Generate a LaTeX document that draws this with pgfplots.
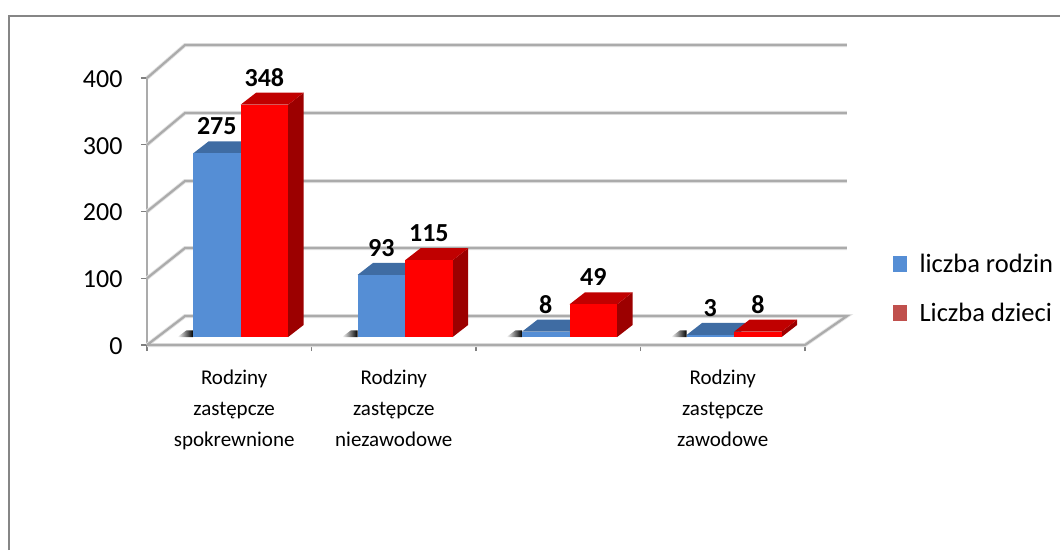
\documentclass[border=0pt]{standalone}
\usepackage{pgfplots}
\pgfplotsset{compat=1.18}
\usepackage{fontspec}
\setmainfont{Carlito}

\definecolor{bluefront}{HTML}{558ED5}
\definecolor{bluetop}{HTML}{3F6CA3}
\definecolor{redfront}{HTML}{FF0000}
\definecolor{redtop}{HTML}{C00000}
\definecolor{redside}{HTML}{9C0000}
\definecolor{gridgray}{HTML}{ABABAB}
\definecolor{legred}{HTML}{C0504D}

\tikzset{wall/.style={gridgray,line width=2.2pt,preaction={draw,gridgray!35,line width=4pt}}}

% one bar: left x, value, front, top, side colour
\newcommand{\cube}[5]{
  \addplot[forget plot,draw=none,fill=#5,yshift=8pt] coordinates {({#1+.289},0) ({#1+.383},18) ({#1+.383},{#2+18}) ({#1+.289},#2)} --cycle;
  \addplot[forget plot,draw=none,fill=#4,yshift=8pt] coordinates {(#1,#2) ({#1+.094},{#2+18}) ({#1+.383},{#2+18}) ({#1+.289},#2)} --cycle;
  \addplot[forget plot,draw=none,fill=#3,yshift=8pt] coordinates {(#1,0) (#1,#2) ({#1+.289},#2) ({#1+.289},0)} --cycle;
  \addplot[forget plot,draw=none,mark=none,nodes near coords,
    /pgf/number format/assume math mode=true,
    every node near coord/.style={anchor=center,yshift=35pt,font=\fontsize{26}{26}\selectfont\bfseries,text=black}]
    coordinates {({#1+.1445},#2)};
}
% floor shadow left of a bar
\newcommand{\smudge}[1]{
  \addplot[forget plot,draw=none,left color=white,right color=black,yshift=8pt] coordinates {({#1-.095},0) ({#1-.04},10) (#1,10) (#1,0)} --cycle;
}

\begin{document}
\begin{tikzpicture}
\useasboundingbox (0pt,0pt) rectangle (1060pt,-550pt);
\draw[color=gray!95,line width=1.6pt] (9pt,-550pt) -- (9pt,-16pt) -- (1060pt,-16pt);
\begin{axis}[
  at={(147pt,-345pt)},anchor=south west,
  scale only axis,width=658pt,height=267pt,
  xmin=0,xmax=4,ymin=0,ymax=400,
  clip=false,
  axis lines=left,
  axis line style={-,color=gridgray,line width=2.4pt},
  xtick={0,1,2,3,4},xticklabels={},
  ytick={0,100,200,300,400},
  extra x ticks={0.53,1.5,2.5,3.5},
  extra x tick style={major tick length=0pt},
  extra x tick labels={Rodziny\\zastępcze\\spokrewnione,Rodziny\\zastępcze\\niezawodowe,{},Rodziny\\zastępcze\\zawodowe},
  x tick label style={align=center,font=\fontsize{21}{31}\selectfont,yshift=-21pt},
  y tick label style={font=\fontsize{26}{26}\selectfont,xshift=-15pt,yshift=-1pt,/pgf/number format/assume math mode=true},
  tick style={color=gray,line width=1.3pt},
  major tick length=6pt,
  tick align=outside,
  legend cell align=left,
  legend style={at={(1.134,0.213)},anchor=west,draw=none,fill=none,
    font=\fontsize{26.5}{26.5}\selectfont,row sep=25pt,inner sep=0pt},
  legend image code/.code={\fill[#1,draw=none] (0pt,-8pt) rectangle (14pt,8pt); \path (24pt,0pt);},
]
\addlegendimage{fill=bluefront}
\addlegendentry{liczba rodzin}
\addlegendimage{fill=legred}
\addlegendentry{Liczba dzieci}

% walls and floor
\addplot[forget plot,wall] coordinates {(0,400) (.231,449.4) (4.255,449.4)};
\addplot[forget plot,wall] coordinates {(0,300) (.231,347.6) (4.255,347.6)};
\addplot[forget plot,wall] coordinates {(0,200) (.231,245.7) (4.255,245.7)};
\addplot[forget plot,wall] coordinates {(0,100) (.231,145.3) (4.255,145.3)};
\addplot[forget plot,wall] coordinates {(0,0) (.231,43.4) (4.255,43.4) (4,0) (0,0)};

\smudge{0.28}\smudge{1.28}\smudge{2.28}\smudge{3.28}
\cube{0.28}{275}{bluefront}{bluetop}{bluetop}
\cube{0.569}{348}{redfront}{redtop}{redside}
\cube{1.28}{93}{bluefront}{bluetop}{bluetop}
\cube{1.569}{115}{redfront}{redtop}{redside}
\cube{2.28}{8}{bluefront}{bluetop}{bluetop}
\cube{2.569}{49}{redfront}{redtop}{redside}
\cube{3.28}{3}{bluefront}{bluetop}{bluetop}
\cube{3.569}{8}{redfront}{redtop}{redside}
\end{axis}
\end{tikzpicture}
\end{document}
